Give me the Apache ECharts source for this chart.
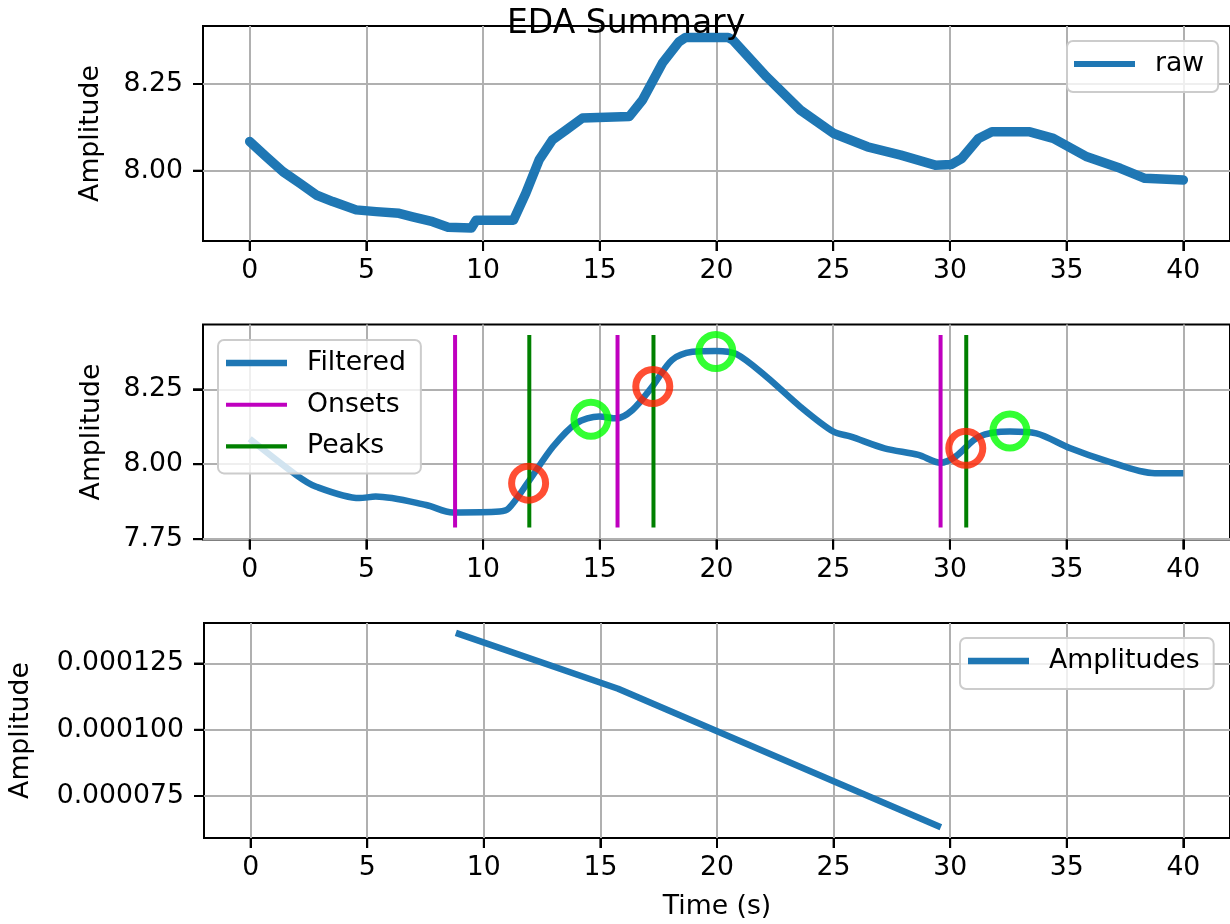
<!DOCTYPE html>
<html>
<head>
<meta charset="utf-8">
<title>EDA Summary</title>
<script src="https://cdn.jsdelivr.net/npm/echarts@6/dist/echarts.min.js"></script>
<style>
  html, body { margin: 0; padding: 0; background: #fff; }
  #my_chart { width: 1230px; height: 924px; }
</style>
</head>
<body>
<div id="my_chart"></div>
<script>
// raw signal (time s, amplitude)
var rawTime = [0, 0.71, 1.43, 2.14, 2.85, 3.56, 4.56, 5.42, 6.4, 6.98, 7.84, 8.5, 9.5, 9.7, 11.3,
  11.83, 12.4, 12.97, 13.55, 14.26, 16.26, 16.83, 17.68, 18.4, 18.67, 20.5, 20.7, 22.14, 23.59,
  25.0, 26.47, 27.9, 29.37, 30.07, 30.5, 31.23, 31.8, 33.42, 34.43, 35.87, 37.3, 38.35, 40.0];
var rawValues = [8.084, 8.040, 7.997, 7.964, 7.930, 7.911, 7.887, 7.882, 7.877, 7.867, 7.853, 7.837, 7.835, 7.857, 7.857,
  7.935, 8.031, 8.089, 8.117, 8.152, 8.156, 8.204, 8.310, 8.372, 8.384, 8.384, 8.377, 8.271, 8.175,
  8.108, 8.069, 8.045, 8.016, 8.018, 8.035, 8.093, 8.112, 8.112, 8.093, 8.040, 8.007, 7.978, 7.973];

// filtered signal
var filtTime = [0, 2.0, 2.85, 4.7, 5.4, 7.56, 8.7, 10.7, 11.1, 11.9, 13.0, 14.0, 14.97, 15.7, 16.4,
  17.25, 18.1, 18.97, 19.97, 20.84, 22.14, 23.59, 25.0, 25.76, 27.2, 28.65, 29.6, 30.23, 31.25,
  32.57, 33.7, 35.16, 36.6, 38.78, 40.0];
var filtValues = [8.085, 7.964, 7.925, 7.887, 7.892, 7.864, 7.839, 7.842, 7.853, 7.937, 8.059, 8.137, 8.159, 8.153, 8.181,
  8.259, 8.348, 8.375, 8.378, 8.368, 8.292, 8.192, 8.109, 8.092, 8.053, 8.031, 8.005, 8.025, 8.092,
  8.109, 8.103, 8.053, 8.014, 7.970, 7.970];

var onsets = [8.8, 15.76, 29.6];
var peaks = [11.98, 17.3, 30.7];
var vlineRange = [7.789, 8.431];

var redTime = [11.95, 17.27, 30.68];
var redValues = [7.937, 8.259, 8.053];
var greenTime = [14.62, 19.97, 32.57];
var greenValues = [8.150, 8.376, 8.111];

var ampTime = [8.8, 15.76, 29.6];
var ampValues = [0.0001366, 0.0001155, 0.0000632];

var xTicks = [0, 5, 10, 15, 20, 25, 30, 35, 40];
var yTicksRaw = [8.0, 8.25];
var yTicksFilt = [7.75, 8.0, 8.25];
var yTicksAmp = [0.000075, 0.0001, 0.000125];

// axis ranges (x shared, y per panel)
var xRange = [-2, 42];
var yRangeRaw = [7.7973, 8.4172];
var yRangeFilt = [7.749, 8.466];
var yRangeAmp = [0.00005915, 0.0001403];

var FONT = 'DejaVu Sans';
var BLUE = '#1f77b4';

function zip(a, b) {
  return a.map(function (v, i) { return [v, b[i]]; });
}
function vlines(xs) {
  var out = [];
  xs.forEach(function (x) {
    out.push([x, vlineRange[0]], [x, vlineRange[1]], [x, '-']);
  });
  return out;
}
// legend entry drawn as a plain bar of the given thickness
function legItem(name, thick) {
  return { name: name, icon: 'path://M0,0H60V' + thick + 'H0Z' };
}

// outward tick marks, placed through the axis scales
function tickSeries(idx, vals, fixed, vertical) {
  return {
    type: 'custom', xAxisIndex: idx, yAxisIndex: idx, silent: true, z: 6, clip: false,
    data: vals.map(function (v) { return vertical ? [v, fixed] : [fixed, v]; }),
    renderItem: function (params, api) {
      var p = api.coord([api.value(0), api.value(1)]);
      var shape = vertical
        ? { x1: p[0], y1: p[1], x2: p[0], y2: p[1] + 10 }
        : { x1: p[0] - 10, y1: p[1], x2: p[0], y2: p[1] };
      return { type: 'line', shape: shape, style: { stroke: '#000', lineWidth: 2 } };
    }
  };
}

function xAxisOf(idx, withName) {
  var a = {
    type: 'value', gridIndex: idx, min: xRange[0], max: xRange[1],
    axisLine: { show: false, onZero: false },
    axisTick: { show: true, length: 10, customValues: xTicks,
      lineStyle: { color: '#000', width: 2 } },
    axisLabel: { customValues: xTicks, margin: 17, fontFamily: FONT, fontSize: 26.7, color: '#000' },
    splitLine: { lineStyle: { color: '#b0b0b0', width: 2 } }
  };
  if (withName) {
    a.name = 'Time (s)';
    a.nameLocation = 'middle';
    a.nameGap = 56;
    a.nameTextStyle = { fontFamily: FONT, fontSize: 26.7, color: '#000' };
  }
  return a;
}
function yAxisOf(idx, range, ticks, digits, gap) {
  return {
    type: 'value', gridIndex: idx, min: range[0], max: range[1],
    name: 'Amplitude', nameLocation: 'middle', nameGap: gap, nameRotate: 90,
    nameTextStyle: { fontFamily: FONT, fontSize: 26.7, color: '#000' },
    axisLine: { show: false, onZero: false },
    axisTick: { show: true, length: 10, customValues: ticks,
      lineStyle: { color: '#000', width: 2 } },
    axisLabel: { customValues: ticks, margin: 20, fontFamily: FONT, fontSize: 26.7, color: '#000',
      formatter: function (v) { return v.toFixed(digits); } },
    splitLine: { lineStyle: { color: '#b0b0b0', width: 2 } }
  };
}
function legendOf(items, left, top, padding, orient) {
  return {
    data: items, left: left, top: top, orient: orient || 'horizontal',
    padding: padding, itemGap: 11.7, itemWidth: 61, itemHeight: 8,
    backgroundColor: 'rgba(255,255,255,0.8)', borderColor: '#cccccc', borderWidth: 2, borderRadius: 6,
    textStyle: { fontFamily: FONT, fontSize: 26.7, color: '#000', lineHeight: 30, padding: [0, 0, 0, 15] }
  };
}

function gridAt(top) {
  return { left: 203, top: top, width: 1029, height: 215,
    show: true, borderColor: '#000', borderWidth: 2, backgroundColor: 'transparent' };
}

var my_chart = echarts.init(document.getElementById('my_chart'), null, { renderer: 'canvas' });
my_chart.setOption({
  animation: false,
  backgroundColor: '#fff',
  title: {
    text: 'EDA Summary', left: 502, top: 3, z: 10,
    textStyle: { fontFamily: FONT, fontSize: 33, fontWeight: 'normal', color: '#000' }
  },
  grid: [gridAt(26), gridAt(324.5), gridAt(623)],
  xAxis: [xAxisOf(0, false), xAxisOf(1, false), xAxisOf(2, true)],
  yAxis: [
    yAxisOf(0, yRangeRaw, yTicksRaw, 2, 98),
    yAxisOf(1, yRangeFilt, yTicksFilt, 2, 97),
    yAxisOf(2, yRangeAmp, yTicksAmp, 6, 169)
  ],
  legend: [
    legendOf([legItem('raw', 6)], 1067, 41, [8, 14, 13, 7]),
    legendOf([legItem('Filtered', 6.5), legItem('Onsets', 4), legItem('Peaks', 4)], 218, 340, [8, 15, 12, 8], 'vertical'),
    legendOf([legItem('Amplitudes', 6.5)], 960, 638, [8, 14, 13, 8])
  ],
  series: [
    { name: 'raw', type: 'line', xAxisIndex: 0, yAxisIndex: 0, symbol: 'none',
      data: zip(rawTime, rawValues),
      lineStyle: { color: BLUE, width: 9.5, join: 'round', cap: 'round' }, itemStyle: { color: BLUE } },
    { name: 'Filtered', type: 'line', xAxisIndex: 1, yAxisIndex: 1, symbol: 'none', smooth: 0.3,
      data: zip(filtTime, filtValues),
      lineStyle: { color: BLUE, width: 6.5 }, itemStyle: { color: BLUE } },
    { name: 'Onsets', type: 'line', xAxisIndex: 1, yAxisIndex: 1, symbol: 'none',
      data: vlines(onsets), lineStyle: { color: '#bf00bf', width: 4 }, itemStyle: { color: '#bf00bf' } },
    { name: 'Peaks', type: 'line', xAxisIndex: 1, yAxisIndex: 1, symbol: 'none',
      data: vlines(peaks), lineStyle: { color: '#008000', width: 4 }, itemStyle: { color: '#008000' } },
    { name: 'peakMarks', type: 'scatter', xAxisIndex: 1, yAxisIndex: 1, symbol: 'circle', symbolSize: 34,
      data: zip(redTime, redValues),
      itemStyle: { color: 'rgba(0,0,0,0)', borderColor: '#ff2200', borderWidth: 7 }, z: 5 },
    { name: 'maxMarks', type: 'scatter', xAxisIndex: 1, yAxisIndex: 1, symbol: 'circle', symbolSize: 34,
      data: zip(greenTime, greenValues),
      itemStyle: { color: 'rgba(0,0,0,0)', borderColor: '#00ff00', borderWidth: 7 }, z: 5 },
    { name: 'Amplitudes', type: 'line', xAxisIndex: 2, yAxisIndex: 2, symbol: 'none',
      data: zip(ampTime, ampValues),
      lineStyle: { color: BLUE, width: 6.5 }, itemStyle: { color: BLUE } },
    tickSeries(0, xTicks, yRangeRaw[0], true),
    tickSeries(1, xTicks, yRangeFilt[0], true),
    tickSeries(2, xTicks, yRangeAmp[0], true),
    tickSeries(0, yTicksRaw, xRange[0], false),
    tickSeries(1, yTicksFilt, xRange[0], false),
    tickSeries(2, yTicksAmp, xRange[0], false)
  ]
});
</script>
</body>
</html>
